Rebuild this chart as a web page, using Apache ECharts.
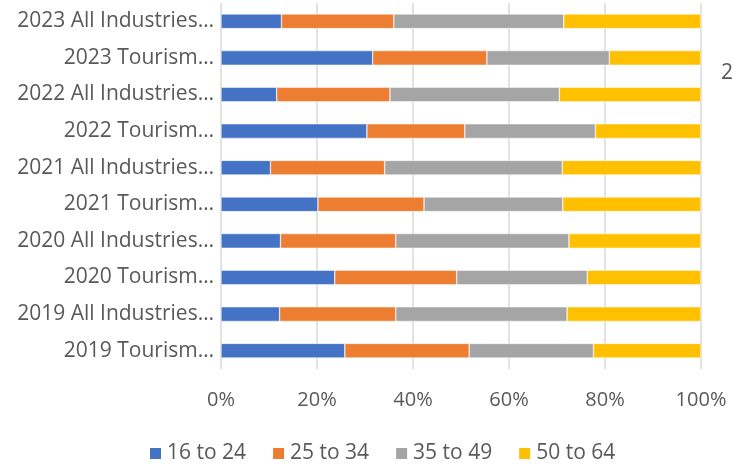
<!DOCTYPE html>
<html><head><meta charset="utf-8">
<script src="https://cdn.jsdelivr.net/npm/echarts@6/dist/echarts.min.js"></script>
<style>html,body{margin:0;padding:0;background:#fff}#c{width:733px;height:468px}</style>
</head><body><div id="c"></div>
<script>
const categories = ["2023 All Industries…","2023 Tourism…","2022 All Industries…","2022 Tourism…","2021 All Industries…","2021 Tourism…","2020 All Industries…","2020 Tourism…","2019 All Industries…","2019 Tourism…"];
const age16to24 = [12.6,31.6,11.6,30.4,10.3,20.2,12.4,23.7,12.2,25.8];
const age25to34 = [23.4,23.8,23.6,20.4,23.8,22.1,24.0,25.4,24.2,25.9];
const age35to49 = [35.4,25.5,35.3,27.2,37.0,28.9,36.1,27.2,35.7,25.9];
const age50to64 = [28.6,19.1,29.5,22.0,28.9,28.8,27.5,23.7,27.9,22.4];
const seriesNames = ["16 to 24","25 to 34","35 to 49","50 to 64"];
const colors = ["#4472c4","#ed7d31","#a5a5a5","#ffc000"];
const xTicks = [0,20,40,60,80,100];
const font = "Open Sans";
const chart = echarts.init(document.getElementById('c'));
const data = [age16to24, age25to34, age35to49, age50to64];
chart.setOption({
  animation:false,
  textStyle:{fontFamily:font},
  grid:{left:221,right:32,top:3,bottom:99},
  xAxis:{type:'value',min:0,max:100,interval:20,
    axisLabel:{formatter:v=>v+'%',color:'#595959',fontSize:20,margin:21,fontFamily:font},
    splitLine:{show:true,lineStyle:{color:'#d9d9d9',width:1.5}},
    axisLine:{show:false},axisTick:{show:false}},
  yAxis:{type:'category',data:categories,inverse:true,
    axisLabel:{color:'#595959',fontSize:21,margin:7,fontFamily:font},
    axisLine:{show:false},axisTick:{show:false}},
  legend:{top:443,left:148,padding:0,itemWidth:13,itemHeight:13,itemGap:25,icon:'rect',
    textStyle:{color:'#595959',fontSize:21,fontFamily:font},data:seriesNames},
  series: seriesNames.map((n,i)=>({name:n,type:'bar',stack:'a',data:data[i],
    barWidth:'40%',itemStyle:{color:colors[i],borderColor:'#fff',borderWidth:0.5}})),
  graphic:[{type:'text',x:721,y:73,style:{text:'2',fill:'#595959',fontSize:21,fontFamily:font,verticalAlign:'middle'}}]
});
</script></body></html>
